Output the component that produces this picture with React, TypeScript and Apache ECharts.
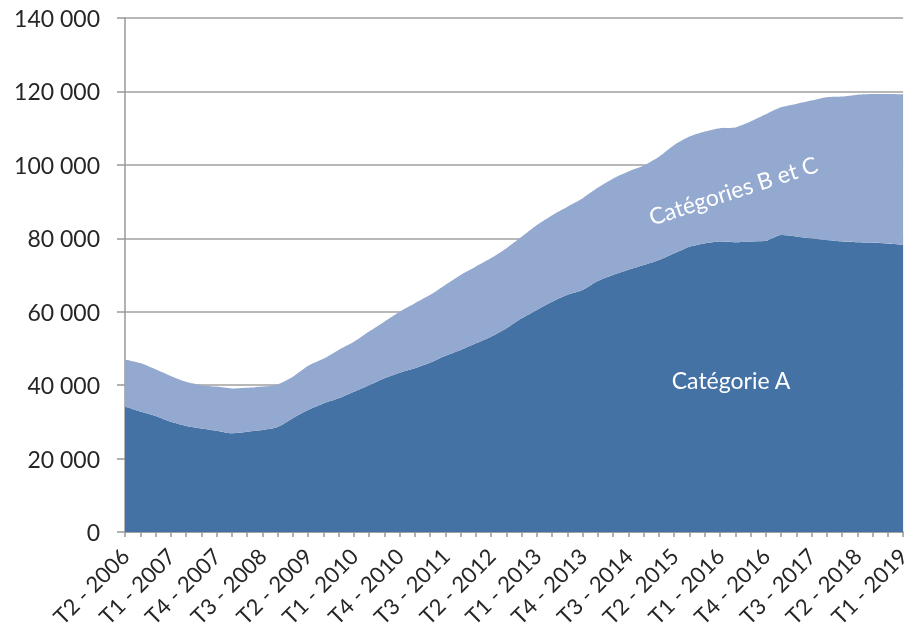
import React, { useEffect, useRef } from "react";
import * as echarts from "echarts";

const categories: string[] = [
  "T2 - 2006", "T3 - 2006", "T4 - 2006",
  "T1 - 2007", "T2 - 2007", "T3 - 2007", "T4 - 2007",
  "T1 - 2008", "T2 - 2008", "T3 - 2008", "T4 - 2008",
  "T1 - 2009", "T2 - 2009", "T3 - 2009", "T4 - 2009",
  "T1 - 2010", "T2 - 2010", "T3 - 2010", "T4 - 2010",
  "T1 - 2011", "T2 - 2011", "T3 - 2011", "T4 - 2011",
  "T1 - 2012", "T2 - 2012", "T3 - 2012", "T4 - 2012",
  "T1 - 2013", "T2 - 2013", "T3 - 2013", "T4 - 2013",
  "T1 - 2014", "T2 - 2014", "T3 - 2014", "T4 - 2014",
  "T1 - 2015", "T2 - 2015", "T3 - 2015", "T4 - 2015",
  "T1 - 2016", "T2 - 2016", "T3 - 2016", "T4 - 2016",
  "T1 - 2017", "T2 - 2017", "T3 - 2017", "T4 - 2017",
  "T1 - 2018", "T2 - 2018", "T3 - 2018", "T4 - 2018",
  "T1 - 2019",
];

// Catégorie A
const categorieA: number[] = [
  34200, 32800, 31600, 30000, 28900, 28200, 27600, 26900, 27300, 27800,
  28600, 31000, 33200, 35000, 36400, 38200, 40000, 41900, 43400, 44600,
  46100, 48000, 49600, 51400, 53200, 55500, 58200, 60500, 62700, 64600,
  65900, 68400, 70000, 71400, 72700, 74100, 75900, 77700, 78600, 79100,
  78900, 79100, 79300, 80900, 80500, 80000, 79500, 79100, 78900, 78800,
  78600, 78200,
];

// Catégories B et C
const categoriesBC: number[] = [
  12800, 13200, 12700, 12500, 12000, 11800, 12000, 12200, 12000, 11800,
  11600, 11300, 12100, 12200, 13200, 13600, 14600, 15400, 16600, 17700,
  18500, 19300, 20400, 20900, 21400, 21800, 22200, 23100, 23600, 24000,
  25000, 25400, 26300, 26800, 27100, 28100, 29500, 30000, 30500, 30900,
  31300, 32700, 34500, 34800, 36100, 37500, 38900, 39500, 40200, 40500,
  40700, 41000,
];

const FONT = "Lato";

export default function App() {
  const ref = useRef<HTMLDivElement>(null);

  useEffect(() => {
    if (!ref.current) return;
    const chart = echarts.init(ref.current, null, { renderer: "svg" });
    const fmt = (v: number) =>
      String(Math.round(v)).replace(/\B(?=(\d{3})+(?!\d))/g, " ");
    chart.setOption({
      animation: false,
      textStyle: { fontFamily: FONT },
      grid: { left: 125, right: 8, top: 18, bottom: 106, containLabel: false },
      xAxis: {
        type: "category",
        data: categories,
        boundaryGap: false,
        axisLine: { show: true, lineStyle: { color: "#999999", width: 1.5 } },
        axisTick: {
          show: true,
          interval: 0,
          length: 5,
          lineStyle: { color: "#999999", width: 1.5 },
        },
        axisLabel: {
          interval: 2,
          rotate: 45,
          margin: 20,
          color: "#262626",
          fontSize: 22,
          fontFamily: FONT,
        },
        splitLine: { show: false },
      },
      yAxis: {
        type: "value",
        min: 0,
        max: 140000,
        interval: 20000,
        axisLine: { show: true, lineStyle: { color: "#999999", width: 1.5 } },
        axisTick: {
          show: true,
          length: 8,
          lineStyle: { color: "#999999", width: 1.5 },
        },
        axisLabel: {
          margin: 25,
          color: "#262626",
          fontSize: 23,
          fontFamily: FONT,
          formatter: (v: number) => fmt(v),
        },
        splitLine: { show: true, lineStyle: { color: "#a0a0a0", width: 1.5 } },
      },
      series: [
        {
          name: "Catégorie A",
          type: "line",
          stack: "total",
          data: categorieA,
          symbol: "none",
          smooth: 0.25,
          lineStyle: { width: 0 },
          areaStyle: { color: "#4472A5", opacity: 1 },
          itemStyle: { color: "#4472A5" },
        },
        {
          name: "Catégories B et C",
          type: "line",
          stack: "total",
          data: categoriesBC,
          symbol: "none",
          smooth: 0.25,
          lineStyle: { width: 0 },
          areaStyle: { color: "#94A9CF", opacity: 1 },
          itemStyle: { color: "#94A9CF" },
        },
      ],
      graphic: [
        {
          type: "text",
          z: 100,
          x: 731,
          y: 380,
          style: {
            text: "Catégorie A",
            fill: "#ffffff",
            font: `23px ${FONT}`,
            textAlign: "center",
            textVerticalAlign: "middle",
          },
        },
        {
          type: "text",
          z: 100,
          x: 733,
          y: 190,
          rotation: (18 * Math.PI) / 180,
          style: {
            text: "Catégories B et C",
            fill: "#ffffff",
            font: `23px ${FONT}`,
            textAlign: "center",
            textVerticalAlign: "middle",
          },
        },
      ],
    });
    return () => chart.dispose();
  }, []);

  return (
    <div
      ref={ref}
      style={{ position: "fixed", left: 0, top: 0, width: 913, height: 638 }}
    />
  );
}
